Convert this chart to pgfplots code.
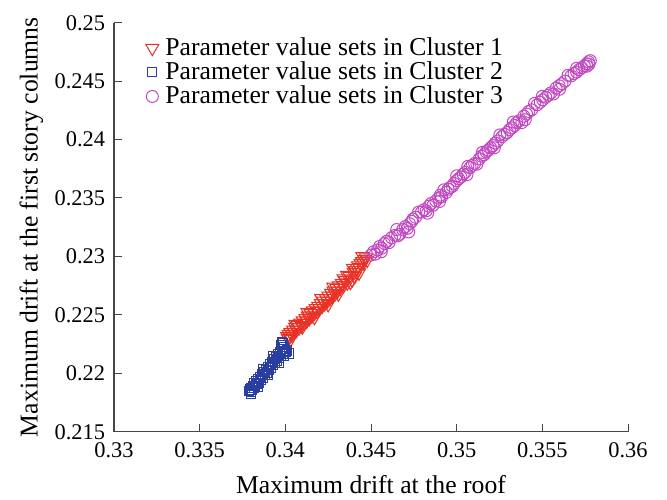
\documentclass[border=0pt]{standalone}
\usepackage{fontspec}
\setmainfont{Liberation Serif}
\usepackage{pgfplots}
\pgfplotsset{compat=1.18}

\definecolor{clred}{RGB}{232,48,36}
\definecolor{clblue}{RGB}{42,62,160}
\definecolor{clmag}{RGB}{192,72,192}
\definecolor{axgray}{RGB}{70,70,70}

\begin{document}
\fontsize{12.85}{15}\selectfont
\begin{tikzpicture}
\useasboundingbox (-57pt,-34pt) rectangle (276.5pt,215.85pt);
\begin{axis}[
  scale only axis, width=257pt, height=204.5pt,
  xmin=0.33, xmax=0.36, ymin=0.215, ymax=0.25,
  axis x line*=bottom, axis y line*=left,
  axis line style={axgray, line width=0.6pt},
  tick align=inside, tick style={axgray, line width=0.5pt},
  major tick length=4pt,
  xtick={0.33,0.335,0.34,0.345,0.35,0.355,0.36},
  ytick={0.215,0.22,0.225,0.23,0.235,0.24,0.245,0.25},
  scaled ticks=false,
  xticklabel={\pgfmathprintnumber[fixed,precision=3,assume math mode=true]{\tick}},
  yticklabel={\pgfmathprintnumber[fixed,precision=3,assume math mode=true]{\tick}},
  ticklabel style={font=\rmfamily\fontsize{11.2}{13}\selectfont},
  xticklabel style={yshift=-1pt},
  xlabel={Maximum drift at the roof},
  ylabel={Maximum drift at the first story columns},
  xlabel style={yshift=0pt},
  ylabel style={yshift=-3pt},
  legend style={draw=none, fill=none, at={(0.039,0.985)}, anchor=north west,
    font=\fontsize{12.85}{15}\selectfont, row sep=-2.75pt,
    legend cell align=left},
  legend image code/.code={\path (0,0) (0.35cm,0); \draw[#1] plot coordinates {(0.2cm,0cm)};},
]
\addplot[only marks, clred, line width=0.5pt, mark=triangle, mark size=3.8pt,
  every mark/.append style={rotate=180}] coordinates {
(0.34010,0.22318)(0.34015,0.22300)(0.34020,0.22335)(0.34025,0.22312)
(0.34030,0.22350)(0.34038,0.22330)(0.34045,0.22372)(0.34050,0.22352)
(0.34058,0.22395)(0.34065,0.22370)(0.34072,0.22412)(0.34080,0.22390)
(0.34088,0.22430)(0.34095,0.22410)(0.34102,0.22450)(0.34110,0.22428)
(0.34118,0.22470)(0.34125,0.22448)(0.34132,0.22490)(0.34140,0.22470)
(0.34148,0.22512)(0.34155,0.22492)(0.34162,0.22535)(0.34170,0.22515)
(0.34178,0.22555)(0.34185,0.22532)(0.34192,0.22575)(0.34200,0.22555)
(0.34208,0.22598)(0.34215,0.22575)(0.34222,0.22620)(0.34230,0.22598)
(0.34238,0.22640)(0.34245,0.22618)(0.34252,0.22662)(0.34260,0.22640)
(0.34268,0.22685)(0.34275,0.22662)(0.34282,0.22705)(0.34290,0.22682)
(0.34298,0.22728)(0.34305,0.22705)(0.34312,0.22750)(0.34320,0.22728)
(0.34330,0.22770)(0.34340,0.22752)(0.34350,0.22795)(0.34362,0.22775)
(0.34375,0.22830)(0.34390,0.22800)(0.34400,0.22865)(0.34410,0.22880)
(0.34418,0.22900)(0.34425,0.22920)(0.34432,0.22905)(0.34440,0.22940)
(0.34448,0.22958)(0.34455,0.22945)(0.34462,0.22975)(0.34470,0.22990)
(0.34478,0.22970)
(0.34030,0.22290)(0.34060,0.22420)(0.34100,0.22400)(0.34130,0.22520)
(0.34170,0.22480)(0.34210,0.22640)(0.34250,0.22590)(0.34280,0.22740)
(0.34310,0.22680)(0.34340,0.22810)(0.34380,0.22780)(0.34395,0.22900)
(0.34430,0.22860)(0.34450,0.23000)(0.34405,0.22830)(0.34360,0.22840)
};
\addlegendentry{Parameter value sets in Cluster 1}
\addplot[only marks, clblue, line width=0.5pt, mark=square, mark size=2.3pt] coordinates {
(0.33790,0.21848)(0.33794,0.21862)(0.33798,0.21840)(0.33802,0.21875)
(0.33806,0.21858)(0.33810,0.21890)(0.33815,0.21872)(0.33820,0.21912)
(0.33824,0.21888)(0.33830,0.21930)(0.33835,0.21905)(0.33840,0.21948)
(0.33846,0.21920)(0.33852,0.21968)(0.33858,0.21940)(0.33862,0.21990)
(0.33868,0.21962)(0.33874,0.22008)(0.33880,0.21985)(0.33886,0.22030)
(0.33892,0.22005)(0.33898,0.22055)(0.33904,0.22025)(0.33910,0.22075)
(0.33916,0.22048)(0.33922,0.22095)(0.33928,0.22070)(0.33934,0.22120)
(0.33940,0.22092)(0.33946,0.22140)(0.33952,0.22110)(0.33958,0.22160)
(0.33964,0.22128)(0.33970,0.22185)(0.33976,0.22150)(0.33982,0.22205)
(0.33988,0.22170)(0.33994,0.22228)(0.34000,0.22190)(0.34006,0.22180)
(0.34012,0.22195)(0.33975,0.22240)(0.33985,0.22255)
(0.33800,0.21820)(0.33840,0.21880)(0.33870,0.22040)(0.33900,0.21990)
(0.33930,0.22150)(0.33960,0.22090)(0.33990,0.22150)(0.34020,0.22170)
(0.33980,0.22270)
};
\addlegendentry{Parameter value sets in Cluster 2}
\addplot[only marks, clmag, line width=0.5pt, mark=o, mark size=3pt] coordinates {
(0.34500,0.23012)(0.34515,0.23040)(0.34525,0.23020)(0.34538,0.23055)
(0.34550,0.23085)(0.34562,0.23070)(0.34578,0.23110)(0.34592,0.23130)
(0.34605,0.23118)(0.34620,0.23160)(0.34640,0.23180)(0.34655,0.23175)
(0.34668,0.23190)(0.34685,0.23230)(0.34700,0.23255)(0.34712,0.23240)
(0.34725,0.23280)(0.34738,0.23300)(0.34745,0.23320)(0.34760,0.23335)
(0.34778,0.23380)(0.34795,0.23380)(0.34810,0.23400)(0.34822,0.23390)
(0.34838,0.23430)(0.34850,0.23452)(0.34862,0.23438)(0.34878,0.23475)
(0.34895,0.23500)(0.34905,0.23525)(0.34912,0.23510)(0.34925,0.23570)
(0.34940,0.23548)(0.34950,0.23575)(0.34962,0.23590)(0.34975,0.23600)
(0.34985,0.23625)(0.35000,0.23648)(0.35012,0.23665)(0.35025,0.23680)
(0.35038,0.23705)(0.35050,0.23720)(0.35065,0.23770)(0.35078,0.23760)
(0.35090,0.23778)(0.35105,0.23795)(0.35118,0.23790)(0.35132,0.23835)
(0.35145,0.23858)(0.35160,0.23870)(0.35172,0.23895)(0.35185,0.23910)
(0.35198,0.23930)(0.35212,0.23948)(0.35225,0.23970)(0.35240,0.23988)
(0.35252,0.24040)(0.35265,0.24025)(0.35280,0.24045)(0.35295,0.24060)
(0.35308,0.24085)(0.35322,0.24100)(0.35338,0.24120)(0.35350,0.24145)
(0.35365,0.24160)(0.35380,0.24145)(0.35392,0.24200)(0.35408,0.24218)
(0.35420,0.24240)(0.35438,0.24255)(0.35455,0.24310)(0.35470,0.24298)
(0.35488,0.24320)(0.35502,0.24340)(0.35520,0.24362)(0.35535,0.24380)
(0.35550,0.24400)(0.35565,0.24390)(0.35580,0.24440)(0.35598,0.24460)
(0.35615,0.24478)(0.35632,0.24500)(0.35650,0.24550)(0.35668,0.24545)
(0.35685,0.24565)(0.35700,0.24578)(0.35715,0.24598)(0.35730,0.24615)
(0.35745,0.24630)(0.35758,0.24648)(0.35770,0.24665)(0.35780,0.24675)
(0.35772,0.24645)(0.35760,0.24628)
(0.34560,0.23040)(0.34650,0.23230)(0.34720,0.23210)(0.34830,0.23370)
(0.34900,0.23470)(0.35000,0.23690)(0.35060,0.23700)(0.35150,0.23890)
(0.35220,0.23930)(0.35330,0.24150)(0.35400,0.24170)(0.35500,0.24370)
(0.35600,0.24430)(0.35700,0.24610)
};
\addlegendentry{Parameter value sets in Cluster 3}
\end{axis}
\end{tikzpicture}
\end{document}
